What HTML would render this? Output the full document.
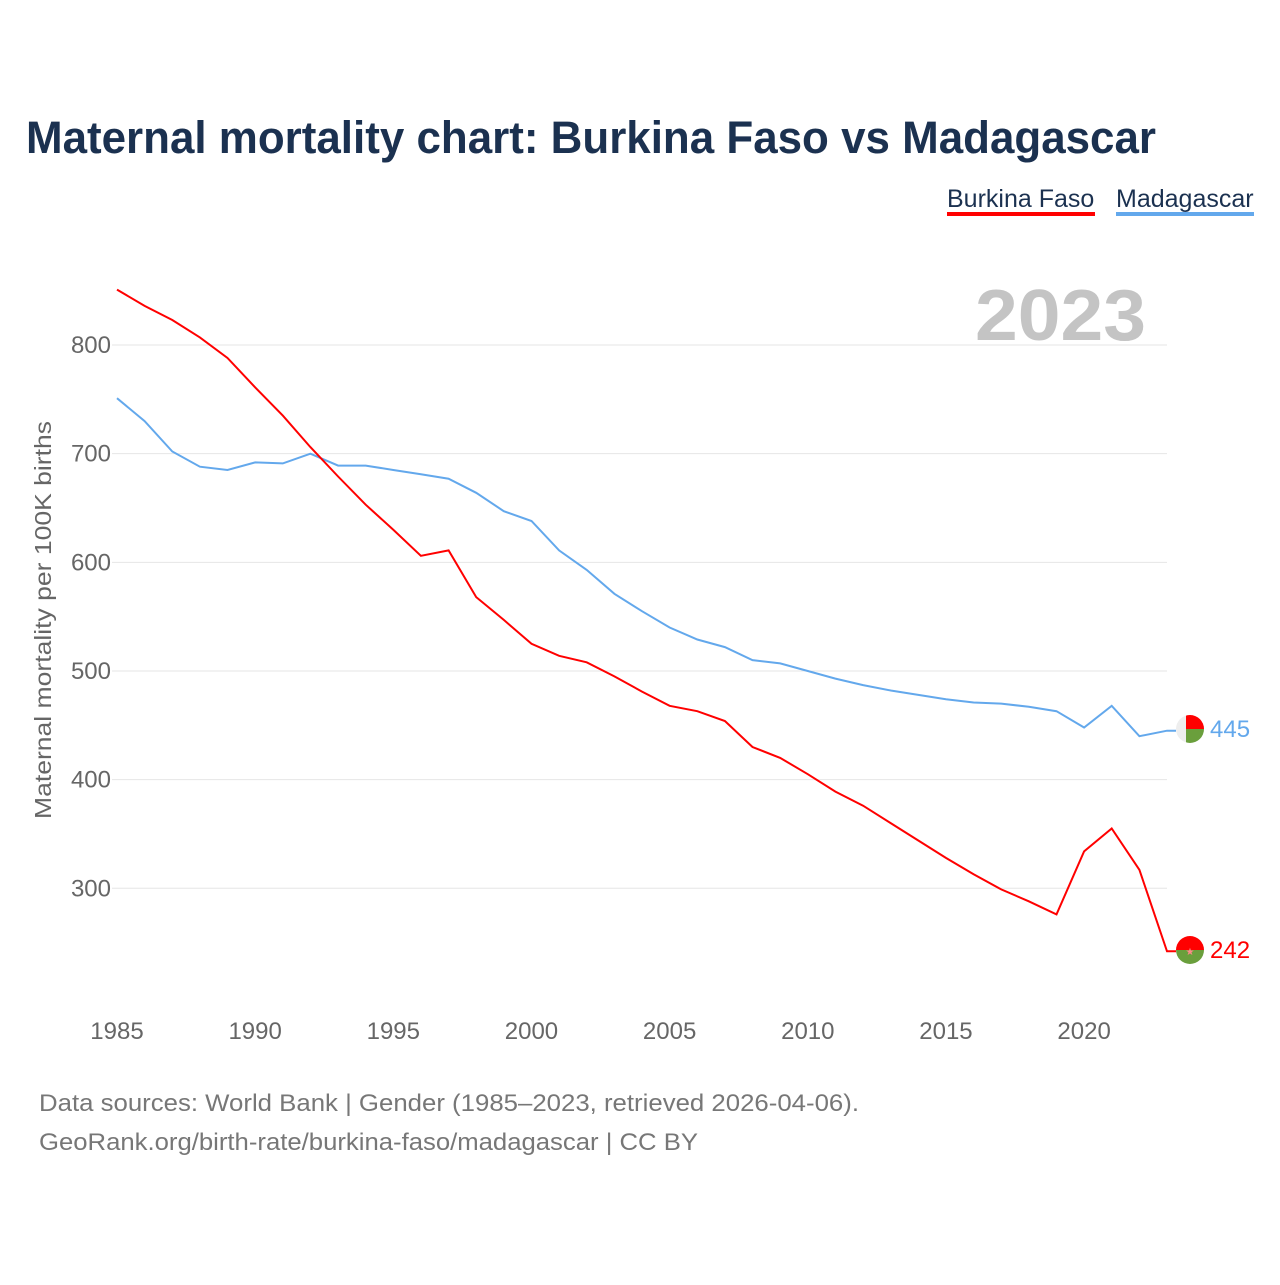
<!DOCTYPE html>
<html><head><meta charset="utf-8"><style>
body{margin:0;background:#fff;width:1280px;height:1280px;overflow:hidden;font-family:"Liberation Sans",sans-serif;}
</style></head><body>
<svg id="chart" width="1280" height="1280" xmlns="http://www.w3.org/2000/svg" font-family="Liberation Sans, sans-serif">
<text x="26" y="153" font-size="45" font-weight="bold" fill="#1b3150" textLength="1130" lengthAdjust="spacingAndGlyphs">Maternal mortality chart: Burkina Faso vs Madagascar</text>
<g><text x="947" y="207" font-size="25" fill="#1b3150">Burkina Faso</text><rect x="947" y="212" width="148" height="4" fill="#ff0000"/></g>
<g><text x="1116" y="207" font-size="25" fill="#1b3150">Madagascar</text><rect x="1116" y="212" width="138" height="4" fill="#63a8ec"/></g>
<text x="975" y="340" font-size="72" font-weight="bold" fill="#c4c4c4" textLength="171" lengthAdjust="spacingAndGlyphs">2023</text>
<g id="grid"></g><g id="yticks"></g><g id="xticks"></g>
<text transform="translate(51,620) rotate(-90)" font-size="23" fill="#666" text-anchor="middle" textLength="398" lengthAdjust="spacingAndGlyphs">Maternal mortality per 100K births</text>
<g id="lines"></g>
<g>
<clipPath id="cm"><circle cx="1190" cy="729" r="14"/></clipPath>
<g clip-path="url(#cm)"><rect x="1176" y="715" width="28" height="28" fill="#eee"/><rect x="1186" y="715" width="18" height="14" fill="#f00"/><rect x="1186" y="729" width="18" height="14" fill="#6a9f3c"/></g></g>
<g>
<clipPath id="cb"><circle cx="1190" cy="950" r="14"/></clipPath>
<g clip-path="url(#cb)"><rect x="1176" y="936" width="28" height="14" fill="#f00"/><rect x="1176" y="950" width="28" height="14" fill="#6a9f3c"/></g>
<text x="1190" y="955" font-size="10" fill="#f88" text-anchor="middle">★</text></g>
<text x="1210" y="737" font-size="24" fill="#63a8ec">445</text>
<text x="1210" y="958" font-size="24" fill="#f00">242</text>
<text x="39" y="1111" font-size="24" fill="#777" textLength="820" lengthAdjust="spacingAndGlyphs">Data sources: World Bank | Gender (1985–2023, retrieved 2026-04-06).</text>
<text x="39" y="1150" font-size="24" fill="#777" textLength="659" lengthAdjust="spacingAndGlyphs">GeoRank.org/birth-rate/burkina-faso/madagascar | CC BY</text>
</svg>
<script>
const years=[1985,1986,1987,1988,1989,1990,1991,1992,1993,1994,1995,1996,1997,1998,1999,2000,2001,2002,2003,2004,2005,2006,2007,2008,2009,2010,2011,2012,2013,2014,2015,2016,2017,2018,2019,2020,2021,2022,2023];
const burkina=[851,836,823,807,788,761,735,706,679,653,630,606,611,568,547,525,514,508,495,481,468,463,454,430,420,405,389,376,360,344,328,313,299,288,276,334,355,317,242];
const madagascar=[751,730,702,688,685,692,691,700,689,689,685,681,677,664,647,638,611,593,571,555,540,529,522,510,507,500,493,487,482,478,474,471,470,467,463,448,468,440,445];
const yTicks=[300,400,500,600,700,800];
const xTicks=[1985,1990,1995,2000,2005,2010,2015,2020];
const X=y=>117+(y-1985)*(1167-117)/38;
const Y=v=>345+(800-v)*1.0866;
const NS="http://www.w3.org/2000/svg";
function mk(t,a,p){const e=document.createElementNS(NS,t);for(const k in a)e.setAttribute(k,a[k]);document.getElementById(p).appendChild(e);return e;}
yTicks.forEach(v=>{
 const l=mk('line',{x1:112,x2:1167,y1:Y(v),y2:Y(v),stroke:'#e6e6e6','stroke-width':1},'grid');
 
 
 const t=mk('text',{x:111,y:Y(v)+8,'font-size':24,fill:'#666','text-anchor':'end'},'yticks');
 t.textContent=v;
 
 
});
xTicks.forEach(v=>{
 const t=mk('text',{x:X(v),y:1039,'font-size':24,fill:'#666','text-anchor':'middle'},'xticks');
 t.textContent=v;
 
 
});
function line(vals,col,name,extra){
 let d=vals.map((v,i)=>(i?'L':'M')+X(years[i]).toFixed(1)+','+Y(v).toFixed(1)).join('');
 d+='L'+(X(years[years.length-1])+extra)+','+Y(vals[vals.length-1]).toFixed(1);
 const p=mk('path',{d:d,fill:'none',stroke:col,'stroke-width':2},'lines');
 
 
}
line(madagascar,'#63a8ec','line-madagascar',9);
line(burkina,'#ff0000','line-burkina-faso',9);
</script>
</body></html>
